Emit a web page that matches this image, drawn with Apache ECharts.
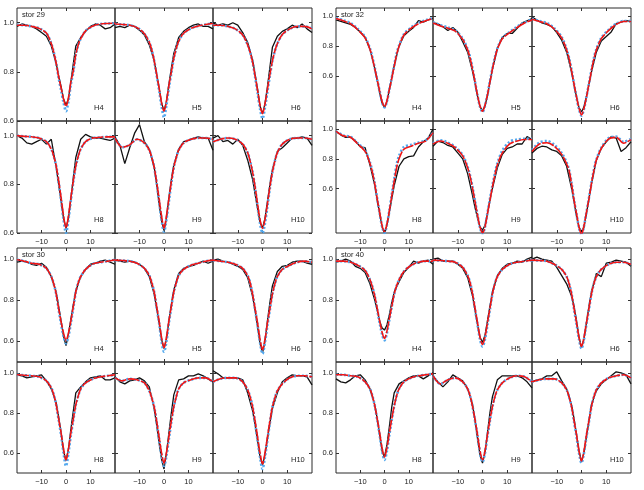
<!DOCTYPE html>
<html>
<head>
<meta charset="utf-8">
<script src="https://cdn.jsdelivr.net/npm/echarts@6/dist/echarts.min.js"></script>
<style>
  html, body { margin: 0; background: #fff; }
  #chart { width: 644px; height: 490px; }
</style>
</head>
<body>
<div id="chart"></div>
<script>
// velocity grids: observed spectrum and the two model profiles
const XO = [-20,-18,-16,-14,-12,-10,-8,-6,-4,-3,-2,-1,0,1,2,3,4,6,8,10,12,14,16,18,20];
const XM = [-20,-17,-14,-11,-8,-6,-5,-4,-3,-2,-1,0,1,2,3,4,5,6,8,11,14,17,20];

const stars = ["stor 29", "stor 32", "stor 30", "stor 40"];
const lines = ["H4", "H5", "H6", "H8", "H9", "H10"];
const yTicks = [0.6, 0.8, 1.0];
const xTicks = [-10, 0, 10];
const yMin = [0.6, 0.3, 0.5, 0.5];
const yMax = [1.06, 1.055, 1.054, 1.054];

// stor 29
const obs29H4 = [0.985,0.995,0.99,0.985,0.975,0.96,0.945,0.905,0.835,0.785,0.74,0.69,0.665,0.69,0.76,0.835,0.905,0.94,0.965,0.985,0.995,0.99,0.975,0.98,0.995];
const red29H4 = [0.99,0.99,0.985,0.977,0.958,0.915,0.88,0.835,0.78,0.735,0.69,0.66,0.695,0.76,0.805,0.87,0.91,0.935,0.967,0.987,0.995,0.997,0.998];
const blu29H4 = [0.992,0.99,0.985,0.977,0.958,0.915,0.88,0.835,0.775,0.725,0.675,0.64,0.68,0.75,0.8,0.87,0.91,0.935,0.967,0.987,0.995,0.997,0.998];
const obs29H5 = [0.98,0.985,0.98,0.99,0.985,0.97,0.95,0.91,0.845,0.79,0.735,0.675,0.64,0.68,0.75,0.815,0.875,0.94,0.965,0.98,0.99,0.995,0.985,0.985,0.975];
const red29H5 = [0.995,0.993,0.99,0.98,0.955,0.92,0.89,0.845,0.79,0.735,0.675,0.64,0.68,0.745,0.8,0.855,0.895,0.925,0.957,0.977,0.987,0.993,0.997];
const blu29H5 = [0.995,0.993,0.99,0.98,0.955,0.92,0.89,0.845,0.785,0.725,0.66,0.615,0.665,0.735,0.795,0.855,0.895,0.925,0.957,0.977,0.987,0.993,0.997];
const obs29H6 = [1.0,0.99,0.995,0.99,1.0,0.99,0.96,0.92,0.85,0.79,0.73,0.66,0.63,0.67,0.74,0.82,0.9,0.945,0.965,0.975,0.99,0.98,0.995,0.975,0.96];
const red29H6 = [0.99,0.99,0.985,0.975,0.95,0.91,0.88,0.84,0.785,0.725,0.665,0.63,0.67,0.73,0.79,0.845,0.885,0.915,0.952,0.975,0.985,0.985,0.975];
const blu29H6 = [0.99,0.99,0.985,0.975,0.95,0.91,0.88,0.84,0.78,0.715,0.65,0.61,0.655,0.72,0.785,0.845,0.885,0.915,0.952,0.975,0.985,0.985,0.977];
const obs29H8 = [1.0,0.99,0.97,0.965,0.975,0.985,0.965,0.985,0.87,0.8,0.73,0.66,0.62,0.66,0.74,0.83,0.91,0.985,1.005,0.995,0.99,0.99,0.985,0.98,0.99];
const red29H8 = [1.0,0.997,0.995,0.99,0.975,0.945,0.915,0.875,0.815,0.745,0.67,0.62,0.67,0.745,0.815,0.875,0.915,0.945,0.975,0.99,0.993,0.995,0.995];
const blu29H8 = [1.0,0.997,0.995,0.99,0.975,0.945,0.915,0.875,0.81,0.735,0.655,0.6,0.655,0.735,0.81,0.875,0.915,0.945,0.975,0.99,0.993,0.995,0.995];
const obs29H9 = [0.995,0.96,0.885,0.95,1.01,1.045,0.975,0.945,0.87,0.8,0.72,0.65,0.61,0.66,0.745,0.82,0.88,0.945,0.975,0.98,0.99,0.995,0.99,0.99,0.94];
const red29H9 = [0.99,0.952,0.962,0.985,0.97,0.94,0.91,0.87,0.81,0.74,0.67,0.62,0.67,0.74,0.81,0.87,0.91,0.94,0.97,0.985,0.99,0.99,0.985];
const blu29H9 = [0.99,0.952,0.962,0.985,0.97,0.94,0.91,0.87,0.805,0.73,0.655,0.605,0.655,0.73,0.805,0.87,0.91,0.94,0.97,0.985,0.99,0.99,0.985];
const obs29H10 = [0.99,1.0,0.975,0.98,0.965,0.985,0.96,0.9,0.82,0.76,0.7,0.645,0.62,0.66,0.73,0.8,0.86,0.935,0.95,0.97,0.99,0.99,0.995,0.99,0.96];
const red29H10 = [0.975,0.985,0.99,0.985,0.965,0.93,0.895,0.85,0.79,0.72,0.655,0.62,0.655,0.72,0.79,0.85,0.895,0.93,0.965,0.985,0.99,0.99,0.985];
const blu29H10 = [0.975,0.985,0.99,0.985,0.965,0.93,0.895,0.85,0.785,0.71,0.64,0.6,0.64,0.71,0.785,0.85,0.895,0.93,0.965,0.985,0.99,0.99,0.985];

// stor 32
const obs32H4 = [0.975,0.965,0.955,0.945,0.925,0.895,0.86,0.78,0.65,0.57,0.49,0.42,0.39,0.43,0.51,0.59,0.67,0.8,0.87,0.9,0.925,0.97,0.96,0.975,0.985];
const red32H4 = [0.985,0.97,0.95,0.91,0.855,0.78,0.72,0.65,0.575,0.5,0.43,0.395,0.435,0.51,0.585,0.665,0.745,0.8,0.875,0.92,0.95,0.97,0.985];
const blu32H4 = [0.988,0.973,0.955,0.915,0.86,0.785,0.725,0.655,0.575,0.5,0.425,0.39,0.43,0.51,0.59,0.67,0.75,0.805,0.88,0.925,0.955,0.973,0.988];
const obs32H5 = [0.955,0.95,0.93,0.905,0.925,0.895,0.83,0.76,0.63,0.55,0.465,0.395,0.37,0.4,0.47,0.56,0.645,0.785,0.86,0.885,0.885,0.92,0.955,0.97,0.985];
const red32H5 = [0.955,0.935,0.92,0.9,0.845,0.775,0.72,0.645,0.56,0.47,0.4,0.365,0.405,0.475,0.56,0.645,0.72,0.78,0.85,0.89,0.925,0.955,0.975];
const blu32H5 = [0.96,0.94,0.925,0.905,0.85,0.78,0.725,0.65,0.56,0.47,0.395,0.36,0.4,0.475,0.565,0.65,0.725,0.785,0.855,0.895,0.93,0.958,0.978];
const obs32H6 = [0.995,0.975,0.955,0.945,0.93,0.89,0.84,0.76,0.625,0.54,0.46,0.39,0.36,0.395,0.465,0.545,0.625,0.76,0.835,0.865,0.895,0.95,0.96,0.97,0.965];
const red32H6 = [0.98,0.965,0.95,0.915,0.855,0.775,0.715,0.635,0.545,0.46,0.385,0.34,0.385,0.46,0.545,0.635,0.715,0.775,0.85,0.905,0.945,0.965,0.965];
const blu32H6 = [0.983,0.968,0.955,0.92,0.86,0.78,0.72,0.64,0.545,0.455,0.38,0.335,0.38,0.46,0.55,0.64,0.72,0.78,0.855,0.91,0.95,0.968,0.967];
const obs32H8 = [0.985,0.96,0.945,0.945,0.92,0.88,0.875,0.76,0.62,0.52,0.43,0.34,0.3,0.35,0.44,0.53,0.62,0.75,0.8,0.815,0.82,0.88,0.915,0.94,1.0];
const red32H8 = [0.985,0.955,0.945,0.9,0.85,0.77,0.71,0.63,0.53,0.44,0.35,0.31,0.36,0.45,0.55,0.65,0.74,0.8,0.865,0.885,0.905,0.92,0.975];
const blu32H8 = [0.985,0.958,0.948,0.905,0.855,0.775,0.715,0.635,0.53,0.435,0.345,0.3,0.355,0.45,0.56,0.665,0.76,0.82,0.88,0.895,0.91,0.925,0.975];
const obs32H9 = [0.885,0.92,0.91,0.89,0.88,0.84,0.8,0.7,0.55,0.47,0.4,0.34,0.32,0.35,0.43,0.52,0.6,0.74,0.83,0.87,0.88,0.9,0.9,0.95,0.93];
const red32H9 = [0.9,0.92,0.905,0.875,0.82,0.74,0.68,0.6,0.51,0.42,0.34,0.3,0.34,0.43,0.52,0.61,0.69,0.76,0.84,0.9,0.92,0.93,0.93];
const blu32H9 = [0.905,0.925,0.91,0.88,0.825,0.745,0.685,0.605,0.515,0.42,0.335,0.295,0.34,0.435,0.53,0.62,0.7,0.77,0.855,0.915,0.93,0.935,0.935];
const obs32H10 = [0.84,0.87,0.885,0.88,0.86,0.85,0.82,0.75,0.6,0.51,0.41,0.34,0.31,0.34,0.43,0.53,0.63,0.79,0.87,0.915,0.95,0.94,0.85,0.875,0.915];
const red32H10 = [0.85,0.9,0.908,0.885,0.83,0.765,0.72,0.63,0.52,0.43,0.34,0.29,0.35,0.44,0.53,0.63,0.72,0.79,0.87,0.935,0.945,0.905,0.93];
const blu32H10 = [0.86,0.91,0.92,0.895,0.84,0.775,0.725,0.635,0.52,0.425,0.335,0.285,0.345,0.44,0.535,0.635,0.725,0.795,0.875,0.94,0.95,0.915,0.935];

// stor 30
const obs30H4 = [0.985,0.99,0.985,0.975,0.97,0.98,0.96,0.915,0.84,0.77,0.7,0.625,0.58,0.635,0.71,0.78,0.845,0.915,0.95,0.975,0.98,0.99,0.995,0.985,0.975];
const red30H4 = [0.997,0.99,0.98,0.975,0.955,0.915,0.88,0.83,0.76,0.695,0.64,0.605,0.64,0.7,0.77,0.84,0.885,0.915,0.95,0.977,0.985,0.99,0.997];
const blu30H4 = [0.997,0.99,0.98,0.975,0.955,0.915,0.88,0.83,0.755,0.685,0.625,0.59,0.625,0.69,0.765,0.84,0.885,0.915,0.95,0.977,0.985,0.99,0.997];
const obs30H5 = [0.995,0.99,0.985,0.99,0.985,0.975,0.955,0.915,0.83,0.76,0.69,0.61,0.565,0.61,0.7,0.78,0.85,0.93,0.955,0.965,0.97,0.98,0.99,0.98,0.99];
const red30H5 = [0.995,0.993,0.99,0.98,0.955,0.92,0.885,0.84,0.77,0.7,0.62,0.57,0.62,0.7,0.77,0.84,0.885,0.92,0.95,0.97,0.98,0.99,0.995];
const blu30H5 = [0.995,0.993,0.99,0.98,0.955,0.92,0.885,0.84,0.765,0.69,0.6,0.55,0.6,0.69,0.765,0.84,0.885,0.92,0.95,0.97,0.98,0.99,0.995];
const obs30H6 = [0.995,1.0,0.99,0.985,0.975,0.965,0.95,0.91,0.82,0.75,0.67,0.59,0.545,0.6,0.7,0.79,0.87,0.94,0.965,0.97,0.985,0.99,0.99,0.98,0.975];
const red30H6 = [0.995,0.99,0.985,0.975,0.955,0.92,0.885,0.83,0.76,0.69,0.61,0.56,0.61,0.69,0.76,0.83,0.88,0.915,0.95,0.97,0.985,0.99,0.985];
const blu30H6 = [0.995,0.99,0.985,0.975,0.955,0.92,0.885,0.83,0.755,0.68,0.595,0.54,0.595,0.68,0.755,0.83,0.88,0.915,0.95,0.97,0.985,0.99,0.985];
const obs30H8 = [0.99,0.985,0.975,0.98,0.985,0.99,0.96,0.92,0.85,0.78,0.7,0.61,0.56,0.62,0.72,0.81,0.9,0.93,0.955,0.975,0.98,0.985,0.965,0.965,0.975];
const red30H8 = [0.99,0.988,0.985,0.98,0.96,0.925,0.89,0.84,0.77,0.7,0.62,0.565,0.62,0.7,0.77,0.84,0.885,0.92,0.95,0.97,0.98,0.985,0.99];
const blu30H8 = [0.99,0.988,0.985,0.98,0.96,0.925,0.89,0.84,0.765,0.69,0.6,0.535,0.6,0.69,0.765,0.84,0.885,0.92,0.95,0.97,0.98,0.985,0.99];
const obs30H9 = [0.98,0.955,0.945,0.96,0.965,0.975,0.96,0.93,0.82,0.74,0.65,0.57,0.52,0.6,0.7,0.8,0.89,0.965,0.97,0.985,0.985,0.995,0.985,0.97,0.955];
const red30H9 = [0.975,0.96,0.97,0.965,0.95,0.91,0.875,0.83,0.76,0.68,0.6,0.55,0.6,0.68,0.76,0.83,0.88,0.92,0.95,0.965,0.975,0.975,0.955];
const blu30H9 = [0.975,0.96,0.97,0.965,0.95,0.91,0.875,0.83,0.755,0.67,0.585,0.535,0.585,0.67,0.755,0.83,0.88,0.92,0.95,0.965,0.975,0.975,0.955];
const obs30H10 = [1.01,0.995,0.975,0.975,0.975,0.975,0.965,0.9,0.81,0.74,0.66,0.58,0.54,0.59,0.67,0.75,0.82,0.9,0.955,0.975,0.99,0.985,0.985,0.98,0.94];
const red30H10 = [0.955,0.97,0.975,0.975,0.955,0.915,0.88,0.83,0.76,0.68,0.6,0.545,0.6,0.68,0.76,0.83,0.875,0.91,0.945,0.975,0.985,0.985,0.98];
const blu30H10 = [0.955,0.97,0.975,0.975,0.955,0.915,0.88,0.83,0.75,0.665,0.58,0.52,0.58,0.665,0.75,0.83,0.875,0.91,0.945,0.975,0.985,0.985,0.98];

// stor 40
const obs40H4 = [0.985,0.99,1.0,0.99,0.965,0.955,0.935,0.88,0.8,0.75,0.7,0.665,0.655,0.68,0.73,0.79,0.84,0.89,0.935,0.96,0.99,0.98,0.99,0.995,0.975];
const red40H4 = [0.99,0.99,0.985,0.97,0.945,0.9,0.865,0.82,0.76,0.7,0.645,0.615,0.65,0.71,0.77,0.83,0.87,0.9,0.94,0.97,0.985,0.99,0.99];
const blu40H4 = [0.99,0.99,0.985,0.97,0.945,0.9,0.865,0.82,0.755,0.69,0.635,0.605,0.64,0.705,0.77,0.83,0.87,0.9,0.94,0.97,0.985,0.99,0.99];
const obs40H5 = [1.0,1.005,0.99,0.99,0.99,0.975,0.955,0.91,0.82,0.75,0.68,0.62,0.595,0.63,0.7,0.77,0.84,0.92,0.955,0.975,0.98,0.99,0.985,1.0,1.01];
const red40H5 = [0.995,0.993,0.99,0.985,0.96,0.92,0.885,0.83,0.76,0.69,0.62,0.585,0.62,0.69,0.76,0.83,0.88,0.915,0.95,0.975,0.985,0.99,0.995];
const blu40H5 = [0.995,0.993,0.99,0.985,0.96,0.92,0.885,0.83,0.755,0.68,0.61,0.575,0.61,0.68,0.755,0.83,0.88,0.915,0.95,0.975,0.985,0.99,0.995];
const obs40H6 = [1.0,1.01,1.0,0.995,0.99,0.96,0.92,0.88,0.82,0.77,0.7,0.62,0.57,0.61,0.69,0.77,0.84,0.93,0.915,0.98,0.985,0.995,0.99,0.985,0.965];
const red40H6 = [0.995,0.993,0.99,0.975,0.95,0.915,0.88,0.83,0.76,0.69,0.62,0.575,0.62,0.69,0.76,0.83,0.88,0.915,0.95,0.975,0.985,0.985,0.975];
const blu40H6 = [0.995,0.993,0.99,0.975,0.95,0.915,0.88,0.83,0.755,0.685,0.61,0.565,0.61,0.685,0.755,0.83,0.88,0.915,0.95,0.975,0.985,0.985,0.975];
const obs40H8 = [0.97,0.955,0.95,0.965,0.985,0.99,0.965,0.92,0.84,0.77,0.69,0.61,0.58,0.64,0.73,0.83,0.9,0.945,0.96,0.975,0.985,0.985,0.97,0.985,1.0];
const red40H8 = [0.99,0.99,0.985,0.98,0.955,0.92,0.885,0.835,0.77,0.7,0.625,0.58,0.625,0.7,0.77,0.835,0.885,0.92,0.955,0.975,0.985,0.99,0.995];
const blu40H8 = [0.99,0.99,0.985,0.98,0.955,0.92,0.885,0.835,0.765,0.69,0.61,0.565,0.61,0.69,0.765,0.835,0.885,0.92,0.955,0.975,0.985,0.99,0.995];
const obs40H9 = [0.985,0.955,0.93,0.955,0.99,0.975,0.96,0.92,0.84,0.76,0.67,0.59,0.55,0.6,0.7,0.8,0.88,0.965,0.985,0.985,0.985,0.985,0.975,0.955,0.925];
const red40H9 = [0.985,0.945,0.965,0.975,0.955,0.92,0.885,0.83,0.765,0.69,0.61,0.565,0.61,0.69,0.765,0.83,0.88,0.915,0.95,0.975,0.985,0.98,0.955];
const blu40H9 = [0.985,0.945,0.965,0.975,0.955,0.92,0.885,0.83,0.76,0.685,0.6,0.555,0.6,0.685,0.76,0.83,0.88,0.915,0.95,0.975,0.985,0.98,0.955];
const obs40H10 = [0.955,0.965,0.97,0.985,0.985,1.005,0.96,0.92,0.84,0.77,0.69,0.61,0.555,0.6,0.68,0.76,0.84,0.91,0.945,0.965,0.985,1.005,1.0,0.99,0.945];
const red40H10 = [0.955,0.965,0.97,0.97,0.95,0.915,0.88,0.83,0.76,0.69,0.61,0.56,0.61,0.69,0.76,0.83,0.88,0.915,0.95,0.975,0.985,0.99,0.975];
const blu40H10 = [0.955,0.965,0.97,0.97,0.95,0.915,0.88,0.83,0.755,0.68,0.6,0.55,0.6,0.68,0.755,0.83,0.88,0.915,0.95,0.975,0.985,0.99,0.975];

const obsAll = [
  [obs29H4, obs29H5, obs29H6, obs29H8, obs29H9, obs29H10],
  [obs32H4, obs32H5, obs32H6, obs32H8, obs32H9, obs32H10],
  [obs30H4, obs30H5, obs30H6, obs30H8, obs30H9, obs30H10],
  [obs40H4, obs40H5, obs40H6, obs40H8, obs40H9, obs40H10]
];
const redAll = [
  [red29H4, red29H5, red29H6, red29H8, red29H9, red29H10],
  [red32H4, red32H5, red32H6, red32H8, red32H9, red32H10],
  [red30H4, red30H5, red30H6, red30H8, red30H9, red30H10],
  [red40H4, red40H5, red40H6, red40H8, red40H9, red40H10]
];
const bluAll = [
  [blu29H4, blu29H5, blu29H6, blu29H8, blu29H9, blu29H10],
  [blu32H4, blu32H5, blu32H6, blu32H8, blu32H9, blu32H10],
  [blu30H4, blu30H5, blu30H6, blu30H8, blu30H9, blu30H10],
  [blu40H4, blu40H5, blu40H6, blu40H8, blu40H9, blu40H10]
];

// panel edges in px
const colX = [[17, 115, 213, 312], [336, 433, 532, 631]];
const rowY = [[8, 121, 233], [248, 362, 473]];

const FONT = "Liberation Sans";
const pairs = (xs, ys) => xs.map((x, i) => [x, ys[i]]);
const tick = vals => ({ show: true, inside: true, length: 3, customValues: vals, lineStyle: { color: "#333" } });

const grid = [], xAxis = [], yAxis = [], xTop = [], yRight = [], series = [], graphic = [];

for (let k = 0; k < 4; k++) {
  const bc = k % 2, br = Math.floor(k / 2);
  for (let r = 0; r < 2; r++) {
    for (let c = 0; c < 3; c++) {
      const p = r * 3 + c;
      const gi = grid.length;
      const left = colX[bc][c], right = colX[bc][c + 1];
      const top = rowY[br][r], bottom = rowY[br][r + 1];
      grid.push({
        left: left, top: top, width: right - left, height: bottom - top,
        show: true, borderColor: "#2a2a2a", borderWidth: 1
      });
      xAxis.push({
        type: "value", gridIndex: gi, min: -20, max: 20, position: "bottom",
        axisLine: { show: false, onZero: false },
        splitLine: { show: false },
        axisTick: tick(xTicks),
        axisLabel: {
          show: r === 1, customValues: xTicks, margin: 5,
          fontSize: 7.5, fontFamily: FONT, color: "#222",
          formatter: v => (v < 0 ? "\u2212" + Math.abs(v) : String(v))
        }
      });
      yAxis.push({
        type: "value", gridIndex: gi, min: yMin[k], max: yMax[k], position: "left",
        axisLine: { show: false, onZero: false },
        splitLine: { show: false },
        axisTick: tick(yTicks),
        axisLabel: {
          show: c === 0, customValues: yTicks, margin: 3,
          fontSize: 7.5, fontFamily: FONT, color: "#222",
          formatter: v => v.toFixed(1)
        }
      });
      // tick-only mirror axes on the top and right edges
      xTop.push({
        type: "value", gridIndex: gi, min: -20, max: 20, position: "top",
        axisLine: { show: false, onZero: false }, splitLine: { show: false },
        axisTick: tick(xTicks), axisLabel: { show: false }
      });
      yRight.push({
        type: "value", gridIndex: gi, min: yMin[k], max: yMax[k], position: "right",
        axisLine: { show: false, onZero: false }, splitLine: { show: false },
        axisTick: tick(yTicks), axisLabel: { show: false }
      });
      series.push({
        type: "line", xAxisIndex: gi, yAxisIndex: gi, z: 2,
        data: pairs(XO, obsAll[k][p]), showSymbol: false, silent: true,
        lineStyle: { color: "#111", width: 1.3 }
      });
      series.push({
        type: "line", xAxisIndex: gi, yAxisIndex: gi, z: 3, smooth: 0.3,
        data: pairs(XM, bluAll[k][p]), showSymbol: false, silent: true,
        lineStyle: { color: "#52a8ee", width: 2.6, type: [2, 2] }
      });
      series.push({
        type: "line", xAxisIndex: gi, yAxisIndex: gi, z: 4, smooth: 0.3,
        data: pairs(XM, redAll[k][p]), showSymbol: false, silent: true,
        lineStyle: { color: "#f01515", width: 1.6, type: [12, 1.5] }
      });
      graphic.push({
        type: "text", left: right - 21, top: bottom - 17, z: 10,
        style: { text: lines[p], fontSize: 7.5, fontFamily: FONT, fill: "#222" }
      });
      if (p === 0) {
        graphic.push({
          type: "text", left: left + 5, top: top + 3, z: 10,
          style: { text: stars[k], fontSize: 7.5, fontFamily: FONT, fill: "#222" }
        });
      }
    }
  }
}

const chart = echarts.init(document.getElementById("chart"));
chart.setOption({
  animation: false,
  backgroundColor: "#fff",
  grid: grid,
  xAxis: xAxis.concat(xTop),
  yAxis: yAxis.concat(yRight),
  series: series,
  graphic: graphic
});
</script>
</body>
</html>
